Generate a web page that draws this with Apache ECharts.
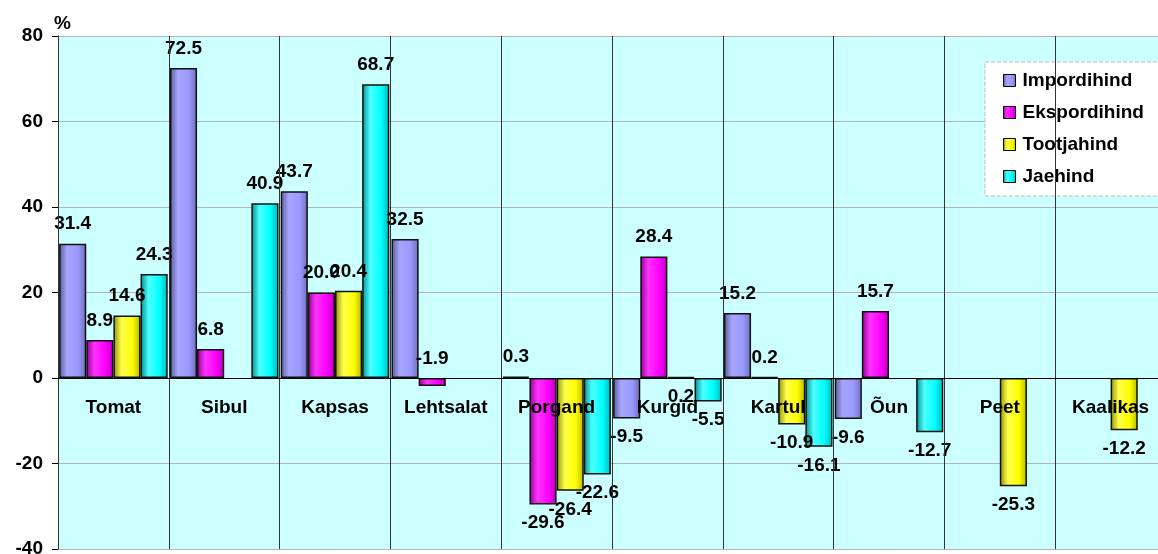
<!DOCTYPE html>
<html>
<head>
<meta charset="utf-8">
<script src="https://cdn.jsdelivr.net/npm/echarts@6/dist/echarts.min.js"></script>
<style>
  html, body { margin: 0; padding: 0; background: #fff; }
  #chart { width: 1158px; height: 554px; }
</style>
</head>
<body>
<div id="chart"></div>
<script>
const categories = ["Tomat", "Sibul", "Kapsas", "Lehtsalat", "Porgand", "Kurgid", "Kartul", "Õun", "Peet", "Kaalikas"];
const seriesNames = ["Impordihind", "Ekspordihind", "Tootjahind", "Jaehind"];
const impordihind = [31.4, 72.5, 43.7, 32.5, 0.3, -9.5, 15.2, -9.6, null, null];
const ekspordihind = [8.9, 6.8, 20.0, -1.9, -29.6, 28.4, 0.2, 15.7, null, null];
const tootjahind = [14.6, null, 20.4, null, -26.4, 0.2, -10.9, null, -25.3, -12.2];
const jaehind = [24.3, 40.9, 68.7, null, -22.6, -5.5, -16.1, -12.7, null, null];
const yTicks = [-40, -20, 0, 20, 40, 60, 80];

// värvid: tume serv, hele keskosa, põhitoon, parem serv
const colors = [
  ["#5a5a96", "#a6a6ff", "#9999FF", "#6e6eb8"],
  ["#8f008f", "#ff33ff", "#FF00FF", "#b800b8"],
  ["#8f8f00", "#ffff4d", "#FFFF00", "#b8b800"],
  ["#008f8f", "#4dffff", "#00FFFF", "#00b8b8"]
];
const values = [impordihind, ekspordihind, tootjahind, jaehind];
// väikeste tulpade sildid, mis originaalis on teisel pool nulljoont
const flippedLabels = [[1, 3], [2, 5]];

const chart = echarts.init(document.getElementById("chart"), null, { renderer: "canvas" });

function cylinder(c) {
  return new echarts.graphic.LinearGradient(0, 0, 1, 0, [
    { offset: 0, color: c[0] },
    { offset: 0.3, color: c[1] },
    { offset: 0.7, color: c[2] },
    { offset: 1, color: c[3] }
  ]);
}

const font = "Liberation Sans, Arial, sans-serif";
const fs = 19;
const gridTop = 36, gridHeight = 513;
const yMin = yTicks[0], yMax = yTicks[yTicks.length - 1];
// kategooriatelg nihutatakse nulljoonele
const zeroOffset = gridHeight * yMin / (yMax - yMin);

function isFlipped(s, c) {
  return flippedLabels.some(function (f) { return f[0] === s && f[1] === c; });
}

const series = seriesNames.map(function (name, i) {
  return {
    name: name,
    type: "bar",
    barGap: "0%",
    barCategoryGap: "2%",
    itemStyle: { color: cylinder(colors[i]), borderColor: "#111", borderWidth: 1.5 },
    data: values[i].map(function (v, j) {
      if (v === null) return "-";
      let up = v >= 0;
      if (isFlipped(i, j)) up = !up;
      return {
        value: v,
        label: { position: up ? "top" : "bottom", distance: up ? 10 : 9 }
      };
    }),
    label: {
      show: true,
      color: "#000",
      fontFamily: font,
      fontWeight: "bold",
      fontSize: fs,
      formatter: function (p) { return p.value.toFixed(1); }
    }
  };
});

chart.setOption({
  animation: false,
  color: colors.map(function (c) { return c[2]; }),
  grid: {
    left: 58, top: gridTop, width: 1108, height: gridHeight,
    outerBoundsMode: "none",
    containLabel: false,
    show: true, backgroundColor: "#CCFFFF", borderWidth: 0
  },
  legend: {
    data: seriesNames,
    orient: "vertical",
    left: 985, top: 62,
    padding: [9, 40, 10, 18],
    itemWidth: 12, itemHeight: 12, itemGap: 13,
    icon: "rect",
    itemStyle: { borderColor: "#000", borderWidth: 1 },
    backgroundColor: "#fff",
    borderColor: "#bdbdbd", borderWidth: 1, borderType: "dashed",
    textStyle: { fontFamily: font, fontWeight: "bold", fontSize: fs, color: "#000", padding: [0, 0, 0, 2] }
  },
  xAxis: {
    type: "category",
    data: categories,
    position: "bottom",
    offset: zeroOffset,
    z: 5,
    axisLine: { onZero: false, lineStyle: { color: "#000", width: 1 } },
    axisTick: { show: false },
    axisLabel: { margin: 20, color: "#000", fontFamily: font, fontWeight: "bold", fontSize: fs },
    splitLine: { show: true, lineStyle: { color: "#333", width: 1 } }
  },
  yAxis: {
    type: "value",
    min: yMin, max: yMax, interval: 20,
    name: "%",
    nameLocation: "end",
    nameGap: 3,
    nameTextStyle: { align: "left", padding: [0, 0, 0, -4], color: "#000", fontFamily: font, fontWeight: "bold", fontSize: fs },
    axisLine: { show: true, lineStyle: { color: "#000" } },
    axisTick: { show: true, length: 6, lineStyle: { color: "#000" } },
    axisLabel: { margin: 15, color: "#000", fontFamily: font, fontWeight: "bold", fontSize: fs },
    splitLine: { show: true, lineStyle: { color: "#b4b4b4", width: 1 } }
  },
  series: series
});
</script>
</body>
</html>
